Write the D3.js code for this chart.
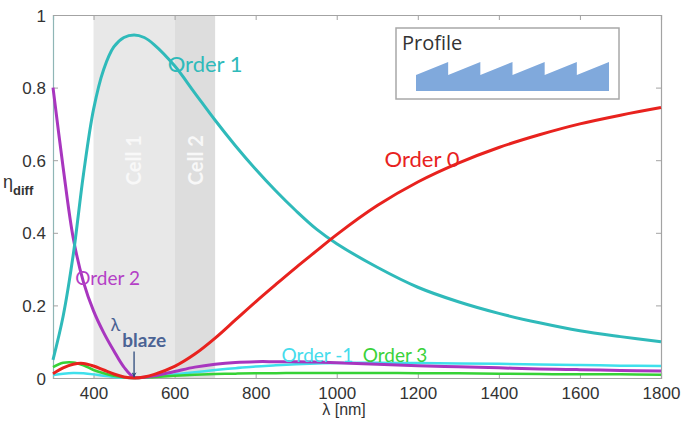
<!DOCTYPE html>
<html>
<head>
<meta charset="utf-8">
<script src="https://cdn.jsdelivr.net/npm/d3@7"></script>
<style>
  body { margin: 0; background: #fff; }
  svg { display: block; }
  .tick text { font-family: "Liberation Sans", Arial, sans-serif; font-size: 17px; fill: #333; }
  .lbl { font-family: Lato, "Open Sans", sans-serif; }
</style>
</head>
<body>
<script>
var w = 686,
  h = 421;
var margin = { top: 15, right: 25, bottom: 43, left: 53 };

// wavelengths (nm)
var lambda = [300, 325, 350, 375, 400, 425, 450, 475, 500, 525, 550, 600, 650, 700, 750, 800, 850, 900, 950, 1000, 1100, 1200, 1300, 1400, 1500, 1600, 1700, 1800];

// diffraction efficiency per order
var order1 = [0.05, 0.17, 0.34, 0.56, 0.74, 0.85, 0.912, 0.938, 0.945, 0.938, 0.918, 0.86, 0.785, 0.71, 0.64, 0.575, 0.515, 0.46, 0.41, 0.37, 0.305, 0.25, 0.21, 0.178, 0.152, 0.13, 0.114, 0.10];
var order0 = [0.012, 0.028, 0.038, 0.04, 0.033, 0.022, 0.011, 0.003, 0.0, 0.003, 0.01, 0.032, 0.066, 0.11, 0.16, 0.21, 0.258, 0.305, 0.35, 0.395, 0.475, 0.54, 0.592, 0.635, 0.67, 0.70, 0.724, 0.745];
var order2 = [0.80, 0.58, 0.385, 0.265, 0.185, 0.125, 0.075, 0.03, 0.002, 0.002, 0.006, 0.018, 0.03, 0.038, 0.043, 0.045, 0.045, 0.045, 0.044, 0.042, 0.038, 0.034, 0.031, 0.028, 0.025, 0.023, 0.021, 0.019];
var orderM1 = [0.008, 0.012, 0.014, 0.013, 0.01, 0.006, 0.003, 0.001, 0.0, 0.002, 0.004, 0.01, 0.016, 0.022, 0.027, 0.032, 0.035, 0.038, 0.04, 0.041, 0.042, 0.041, 0.04, 0.039, 0.037, 0.036, 0.034, 0.033];
var order3 = [0.03, 0.042, 0.043, 0.035, 0.022, 0.013, 0.006, 0.002, 0.0, 0.001, 0.003, 0.006, 0.009, 0.011, 0.012, 0.013, 0.013, 0.014, 0.014, 0.014, 0.014, 0.013, 0.013, 0.012, 0.011, 0.01, 0.01, 0.009];

var xTicks = [400, 600, 800, 1000, 1200, 1400, 1600, 1800];
var yTicks = [0, 0.2, 0.4, 0.6, 0.8, 1];

// spectral cells [from, to]
var cells = [
  { name: 'Cell 1', from: 400, to: 600, fill: '#e8e8e8' },
  { name: 'Cell 2', from: 600, to: 700, fill: '#dddddd' }
];

var series = [
  { name: 'Order -1', values: orderM1, color: '#3fe0ec', width: 2.5 },
  { name: 'Order 3', values: order3, color: '#36d236', width: 2.5 },
  { name: 'Order 2', values: order2, color: '#a836bf', width: 3 },
  { name: 'Order 1', values: order1, color: '#2fbaba', width: 3 },
  { name: 'Order 0', values: order0, color: '#e8221e', width: 3 }
];

// label anchors in data units
var labels = [
  { text: 'Order 1', l: 583, v: 0.843, color: '#2fbaba', size: 22 },
  { text: 'Order 0', l: 1118, v: 0.58, color: '#e8221e', size: 22 },
  { text: 'Order 2', l: 355, v: 0.255, color: '#b43fc6', size: 19 },
  { text: 'Order -1', l: 864, v: 0.044, color: '#45dcec', size: 19 },
  { text: 'Order 3', l: 1064, v: 0.044, color: '#3ad23a', size: 19 }
];

var x = d3.scaleLinear().domain([300, 1800]).range([margin.left, w - margin.right]);
var y = d3.scaleLinear().domain([0, 1]).range([h - margin.bottom, margin.top]);

var svg = d3.select('body').append('svg')
  .attr('width', w)
  .attr('height', h);

// cells
svg.selectAll('rect.cell')
  .data(cells)
  .enter()
  .append('rect')
  .attr('class', 'cell')
  .attr('x', function (d) { return x(d.from); })
  .attr('y', y(1))
  .attr('width', function (d) { return x(d.to) - x(d.from); })
  .attr('height', y(0) - y(1))
  .attr('fill', function (d) { return d.fill; });

svg.selectAll('text.cell')
  .data(cells)
  .enter()
  .append('text')
  .attr('class', 'lbl cell')
  .attr('transform', function (d, i) {
    var cx = i === 0 ? x(500) : x(650) + 1;
    return 'translate(' + cx + ',' + y(0.6) + ') rotate(-90)';
  })
  .attr('text-anchor', 'middle')
  .attr('dy', '0.35em')
  .attr('fill', '#f8f8f8')
  .style('font-size', '20px')
  .style('font-weight', 'bold')
  .text(function (d) { return d.name; });

// axes box
var axBottom = svg.append('g')
  .attr('transform', 'translate(0,' + y(0) + ')')
  .call(d3.axisBottom(x).tickValues(xTicks).tickSize(-5).tickPadding(9).tickFormat(d3.format('d')));
var axTop = svg.append('g')
  .attr('transform', 'translate(0,' + y(1) + ')')
  .call(d3.axisTop(x).tickValues(xTicks).tickSize(-5).tickFormat(''));
var axLeft = svg.append('g')
  .attr('transform', 'translate(' + x(300) + ',0)')
  .call(d3.axisLeft(y).tickValues(yTicks).tickSize(-5).tickPadding(7).tickFormat(d3.format('~g')));
var axRight = svg.append('g')
  .attr('transform', 'translate(' + x(1800) + ',0)')
  .call(d3.axisRight(y).tickValues(yTicks).tickSize(-5).tickFormat(''));

[axBottom, axTop, axLeft, axRight].forEach(function (g) {
  g.select('.domain').attr('stroke', '#a3a3a3').attr('stroke-width', 1.2);
  g.selectAll('.tick line').attr('stroke', '#a3a3a3');
});
axLeft.select('.domain').attr('stroke', '#8fb6b6');
axLeft.selectAll('.tick text').attr('dy', '0.36em');

// curves
var line = d3.line()
  .x(function (d, i) { return x(lambda[i]); })
  .y(function (d) { return y(d); })
  .curve(d3.curveCatmullRom.alpha(0.5));

svg.selectAll('path.series')
  .data(series)
  .enter()
  .append('path')
  .attr('class', 'series')
  .attr('fill', 'none')
  .attr('stroke', function (d) { return d.color; })
  .attr('stroke-width', function (d) { return d.width; })
  .attr('d', function (d) { return line(d.values); });

// curve labels
svg.selectAll('text.order')
  .data(labels)
  .enter()
  .append('text')
  .attr('class', 'lbl order')
  .attr('x', function (d) { return x(d.l); })
  .attr('y', function (d) { return y(d.v); })
  .attr('fill', function (d) { return d.color; })
  .style('font-size', function (d) { return d.size + 'px'; })
  .text(function (d) { return d.text; });

// lambda blaze marker
var blaze = svg.append('text')
  .attr('class', 'lbl')
  .attr('x', x(442))
  .attr('y', y(0.13))
  .attr('fill', '#4b6394')
  .style('font-size', '18px');
blaze.append('tspan').text('λ');
blaze.append('tspan').attr('dx', 2).attr('dy', 16).style('font-size', '19px').style('font-weight', 'bold').text('blaze');

svg.append('defs').append('marker')
  .attr('id', 'arrow')
  .attr('viewBox', '0 0 10 10')
  .attr('refX', 10)
  .attr('refY', 5)
  .attr('markerWidth', 6)
  .attr('markerHeight', 5)
  .attr('markerUnits', 'userSpaceOnUse')
  .attr('orient', 'auto')
  .append('path')
  .attr('d', 'M0,0L10,5L0,10L3,5z')
  .attr('fill', '#2d4a7c');

svg.append('line')
  .attr('x1', x(500)).attr('x2', x(500))
  .attr('y1', y(0.073)).attr('y2', y(0.002))
  .attr('stroke', '#2d4a7c')
  .attr('stroke-width', 1.3)
  .attr('marker-end', 'url(#arrow)');

// axis titles
var ylab = svg.append('text')
  .attr('x', 3)
  .attr('y', 188)
  .attr('fill', '#333')
  .style('font-family', '"Liberation Sans", Arial, sans-serif')
  .style('font-size', '18px');
ylab.append('tspan').text('η');
ylab.append('tspan').attr('dy', 7).style('font-size', '13px').style('font-weight', 'bold').text('diff');

svg.append('text')
  .attr('x', x(1018))
  .attr('y', 415)
  .attr('text-anchor', 'middle')
  .attr('fill', '#333')
  .style('font-family', '"Liberation Sans", Arial, sans-serif')
  .style('font-size', '16px')
  .text('λ [nm]');

// profile inset
var inset = svg.append('g').attr('transform', 'translate(396,28)');
inset.append('rect')
  .attr('width', 223)
  .attr('height', 71)
  .attr('fill', '#fff')
  .attr('stroke', '#a8a8a8')
  .attr('stroke-width', 1.5);
inset.append('text')
  .attr('x', 6)
  .attr('y', 22)
  .attr('fill', '#333')
  .style('font-family', '"Open Sans", sans-serif')
  .style('font-size', '20px')
  .text('Profile');

var teeth = d3.range(6);
var tx = d3.scaleLinear().domain([0, 6]).range([20, 213]);
var prof = 'M' + tx(0) + ',63';
teeth.forEach(function (i) {
  prof += 'L' + tx(i) + ',47L' + tx(i + 1) + ',34';
});
prof += 'L' + tx(6) + ',63Z';
inset.append('path')
  .attr('d', prof)
  .attr('fill', '#80a9dc');
</script>
</body>
</html>
